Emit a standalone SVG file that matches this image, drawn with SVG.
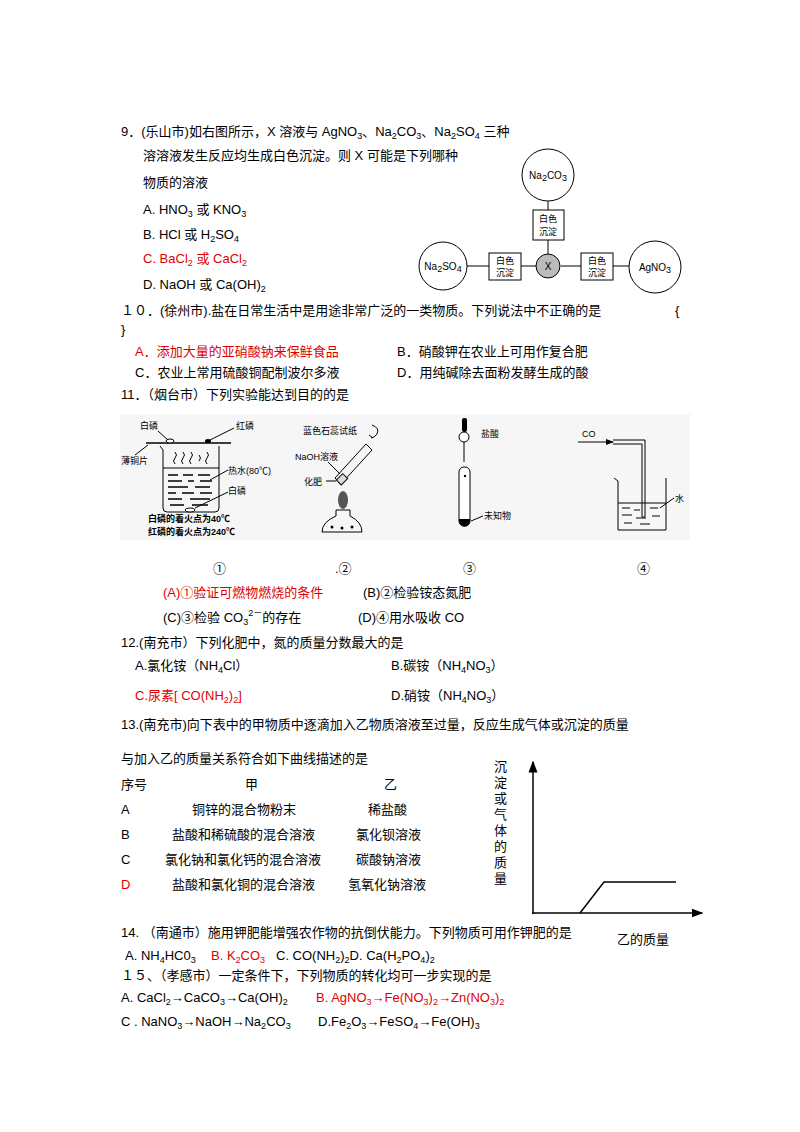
<svg xmlns="http://www.w3.org/2000/svg" width="800" height="1132" viewBox="0 0 800 1132">
<style>
text{font-family:"Liberation Sans","Noto Sans CJK SC",sans-serif;font-size:13px;fill:#000}
.r{fill:#e00000}
.s{font-size:10px}
.sm{font-size:9px}
.ln{stroke:#000;stroke-width:1;fill:none}
.th{stroke:#000;stroke-width:1.5;fill:none}
</style>
<defs><marker id="ah" markerWidth="8" markerHeight="8" refX="7" refY="4" orient="auto"><path d="M0,1 L8,4 L0,7 z" fill="#000"/></marker></defs>
<rect width="800" height="1132" fill="#fff"/>

<text x="121" y="136">9．(乐山市)如右图所示，X 溶液与 AgNO<tspan class="sm" dy="3">3</tspan><tspan dy="-3">、Na</tspan><tspan class="sm" dy="3">2</tspan><tspan dy="-3">CO</tspan><tspan class="sm" dy="3">3</tspan><tspan dy="-3">、Na</tspan><tspan class="sm" dy="3">2</tspan><tspan dy="-3">SO</tspan><tspan class="sm" dy="3">4</tspan><tspan dy="-3"> 三种</tspan></text>
<text x="143" y="160">溶溶液发生反应均生成白色沉淀。则 X 可能是下列哪种</text>
<text x="143" y="187">物质的溶液</text>
<text x="143" y="214">A.   HNO<tspan class="sm" dy="3">3</tspan><tspan dy="-3"> 或 KNO</tspan><tspan class="sm" dy="3">3</tspan></text>
<text x="143" y="239">B.   HCl 或 H<tspan class="sm" dy="3">2</tspan><tspan dy="-3">SO</tspan><tspan class="sm" dy="3">4</tspan></text>
<text x="143" y="263" class="r">C.   BaCl<tspan class="sm r" dy="3">2</tspan><tspan dy="-3"> 或 CaCl</tspan><tspan class="sm r" dy="3">2</tspan></text>
<text x="143" y="289">D.   NaOH  或 Ca(OH)<tspan class="sm" dy="3">2</tspan></text>

<g id="conn">
<line class="ln" x1="548" y1="201" x2="548" y2="210"/>
<line class="ln" x1="548" y1="240" x2="548" y2="255"/>
<line class="ln" x1="467" y1="266" x2="489" y2="266"/>
<line class="ln" x1="521" y1="266" x2="537" y2="266"/>
<line class="ln" x1="561" y1="266" x2="581" y2="266"/>
<line class="ln" x1="613" y1="266" x2="629" y2="266"/>
</g>
<g id="n-na2co3"><circle cx="548" cy="175" r="26" class="ln"/><text x="548" y="179" text-anchor="middle" class="s">Na<tspan class="sm" dy="2">2</tspan><tspan dy="-2">CO</tspan><tspan class="sm" dy="2">3</tspan></text></g>
<g id="n-x"><circle cx="548" cy="266" r="12" fill="#bbb" stroke="#000"/><text x="548" y="270" text-anchor="middle" class="s">X</text></g>
<g id="n-na2so4"><circle cx="443" cy="266" r="24" class="ln"/><text x="443" y="270" text-anchor="middle" class="s">Na<tspan class="sm" dy="2">2</tspan><tspan dy="-2">SO</tspan><tspan class="sm" dy="2">4</tspan></text></g>
<g id="n-agno3"><circle cx="655" cy="267" r="26" class="ln"/><text x="655" y="271" text-anchor="middle" class="s">AgNO<tspan class="sm" dy="2">3</tspan></text></g>
<g id="b-top"><rect x="533" y="210" width="31" height="30" class="ln"/><text x="548" y="222" text-anchor="middle" class="sm">白色</text><text x="548" y="235" text-anchor="middle" class="sm">沉淀</text></g>
<g id="b-left"><rect x="489" y="253" width="32" height="27" class="ln"/><text x="505" y="264" text-anchor="middle" class="sm">白色</text><text x="505" y="276" text-anchor="middle" class="sm">沉淀</text></g>
<g id="b-right"><rect x="581" y="253" width="32" height="27" class="ln"/><text x="597" y="264" text-anchor="middle" class="sm">白色</text><text x="597" y="276" text-anchor="middle" class="sm">沉淀</text></g>

<text x="121" y="315">１０．(徐州市).盐在日常生活中是用途非常广泛的一类物质。下列说法中不正确的是</text>
<text x="675" y="315">{</text>
<text x="121" y="334">}</text>
<text x="135" y="356" class="r">A．添加大量的亚硝酸钠来保鲜食品</text>
<text x="397" y="356">B．硝酸钾在农业上可用作复合肥</text>
<text x="135" y="377">C．农业上常用硫酸铜配制波尔多液</text>
<text x="397" y="377">D．用纯碱除去面粉发酵生成的酸</text>
<text x="121" y="399">11．（烟台市）下列实验能达到目的的是</text>

<g id="experiments">
<rect x="120" y="414" width="570" height="126" fill="#f6f6f6"/>
<line class="th" x1="146" y1="443" x2="231" y2="443"/>
<ellipse cx="170" cy="441" rx="4" ry="2" fill="#fff" stroke="#000"/>
<ellipse cx="208" cy="441" rx="3" ry="2" fill="#000"/>
<path class="ln" d="M160,446 L163,450 L163,508 Q163,512 167,512 L215,512 Q219,512 219,508 L219,446"/>
<path class="ln" d="M175,452 q3,3 0,6 q-3,3 0,6 M183,452 q3,3 0,6 q-3,3 0,6 M191,452 q3,3 0,6 q-3,3 0,6 M199,455 q3,3 0,6 M207,452 q3,3 0,6 q-3,3 0,6"/>
<line class="ln" x1="163" y1="468" x2="219" y2="468"/>
<path stroke="#000" stroke-width="1.5" d="M168,475h10M183,475h10M198,475h12M168,481h14M188,481h6M200,481h12M168,487h20M195,487h15M168,493h8M182,493h12M200,493h12M168,499h14M190,499h20M170,505h14M192,505h16"/>
<ellipse cx="190" cy="510" rx="5" ry="2" fill="#fff" stroke="#000"/>
<text x="140" y="429" class="sm">白磷</text>
<line class="ln" x1="158" y1="431" x2="168" y2="440"/>
<text x="236" y="429" class="sm">红磷</text>
<line class="ln" x1="234" y1="428" x2="210" y2="440"/>
<text x="121" y="464" class="sm">薄铜片</text>
<line class="ln" x1="135" y1="455" x2="148" y2="445"/>
<text x="228" y="474" class="sm">热水(80℃)</text>
<line class="ln" x1="228" y1="470" x2="210" y2="480"/>
<text x="228" y="494" class="sm">白磷</text>
<line class="ln" x1="228" y1="492" x2="195" y2="508"/>
<text x="148" y="522" class="sm" font-weight="bold">白磷的着火点为40℃</text>
<text x="148" y="535" class="sm" font-weight="bold">红磷的着火点为240℃</text>
<text x="303" y="434" class="sm">蓝色石蕊试纸</text>
<path class="ln" d="M372,425 q8,3 5,9 q-3,4 -6,4 M373,438 l-4,-3"/>
<path class="ln" d="M335,478 L366,444 L372,450 L341,484 z"/>
<rect x="338" y="476" width="9" height="7" fill="#ddd" stroke="#000" transform="rotate(-45 342 480)"/>
<text x="295" y="460" class="sm">NaOH溶液</text>
<line class="ln" x1="328" y1="462" x2="340" y2="474"/>
<text x="304" y="485" class="sm">化肥</text>
<line class="ln" x1="326" y1="481" x2="336" y2="481"/>
<ellipse cx="343" cy="500" rx="5" ry="9" fill="#555"/>
<path class="ln" d="M336,510 L350,510 L350,516 Q362,522 362,532 L322,532 Q322,522 336,516 z"/>
<circle cx="332" cy="527" r="1.5"/><circle cx="352" cy="527" r="1.5"/><circle cx="342" cy="528" r="1.5"/>
<rect x="462" y="418" width="5" height="14" rx="2" fill="#000"/>
<ellipse cx="464" cy="437" rx="5" ry="5" fill="#fff" stroke="#000"/>
<line class="ln" x1="464" y1="442" x2="464" y2="462"/>
<rect x="459" y="467" width="11" height="59" rx="5" fill="#fff" stroke="#000"/>
<path d="M459,519 h11 v2 a5,5 0 0 1 -11,0 z" fill="#000"/>
<circle cx="465" cy="476" r="1.2"/>
<text x="481" y="437" class="sm">盐酸</text>
<text x="484" y="519" class="sm">未知物</text>
<line class="ln" x1="483" y1="516" x2="471" y2="521"/>
<text x="582" y="437" class="sm">CO</text>
<line class="ln" x1="578" y1="442" x2="613" y2="442" marker-end="url(#ah)"/>
<path class="ln" d="M613,440 L645,440 L645,517 M613,444 L642,444 L642,517 L645,517"/>
<path class="ln" d="M614,478 L618,481 L618,530 L666,530 L666,478"/>
<line class="ln" x1="618" y1="503" x2="666" y2="503"/>
<path class="ln" d="M622,508h8M634,510h6M650,508h8M622,515h10M636,518h10M652,516h8M624,523h8M640,524h10"/>
<text x="675" y="502" class="sm">水</text>
<line class="ln" x1="674" y1="498" x2="660" y2="508"/>
</g>

<text x="213" y="573">①</text>
<text x="335" y="573">.②</text>
<text x="463" y="573">③</text>
<text x="637" y="573">④</text>
<text x="163" y="597" class="r">(A)①验证可燃物燃烧的条件</text>
<text x="363" y="597">(B)②检验铵态氮肥</text>
<text x="163" y="622">(C)③检验 CO<tspan class="sm" dy="3">3</tspan><tspan class="sm" dy="-9">2－</tspan><tspan dy="6">的存在</tspan></text>
<text x="358" y="622">(D)④用水吸收 CO</text>

<text x="121" y="647">12.(南充市）下列化肥中，氮的质量分数最大的是</text>
<text x="135" y="670">A.氯化铵（NH<tspan class="sm" dy="3">4</tspan><tspan dy="-3">Cl）</tspan></text>
<text x="391" y="670">B.碳铵（NH<tspan class="sm" dy="3">4</tspan><tspan dy="-3">NO</tspan><tspan class="sm" dy="3">3</tspan><tspan dy="-3">）</tspan></text>
<text x="135" y="700" class="r">C.尿素[ CO(NH<tspan class="sm r" dy="3">2</tspan><tspan dy="-3">)</tspan><tspan class="sm r" dy="3">2</tspan><tspan dy="-3">]</tspan></text>
<text x="391" y="700">D.硝铵（NH<tspan class="sm" dy="3">4</tspan><tspan dy="-3">NO</tspan><tspan class="sm" dy="3">3</tspan><tspan dy="-3">）</tspan></text>

<text x="121" y="729">13.(南充市)向下表中的甲物质中逐滴加入乙物质溶液至过量，反应生成气体或沉淀的质量</text>
<text x="121" y="763">与加入乙的质量关系符合如下曲线描述的是</text>
<text x="121" y="789">序号</text><text x="245" y="789">甲</text><text x="384" y="789">乙</text>
<text x="121" y="814">A</text><text x="192" y="814">铜锌的混合物粉末</text><text x="368" y="814">稀盐酸</text>
<text x="121" y="839">B</text><text x="172" y="839">盐酸和稀硫酸的混合溶液</text><text x="356" y="839">氯化钡溶液</text>
<text x="121" y="864">C</text><text x="165" y="864">氯化钠和氯化钙的混合溶液</text><text x="356" y="864">碳酸钠溶液</text>
<text x="121" y="889" class="r">D</text><text x="172" y="889">盐酸和氯化铜的混合溶液</text><text x="348" y="889">氢氧化钠溶液</text>

<g id="graph">
<line class="th" x1="533" y1="914" x2="533" y2="762" marker-end="url(#ah)"/>
<line class="th" x1="532" y1="913" x2="702" y2="913" marker-end="url(#ah)"/>
<polyline class="th" points="580,913 604,882 676,882"/>
<text x="494" y="771">沉</text><text x="494" y="787">淀</text><text x="494" y="803">或</text><text x="494" y="819">气</text><text x="494" y="835">体</text><text x="494" y="851">的</text><text x="494" y="867">质</text><text x="494" y="883">量</text>
</g>

<text x="121" y="937">14. （南通市）施用钾肥能增强农作物的抗倒伏能力。下列物质可用作钾肥的是</text>
<rect x="605" y="920" width="12" height="22" fill="#fff"/>
<text x="617" y="944">乙的质量</text>
<text x="125" y="960" font-size="12">A.  NH<tspan class="sm" dy="3">4</tspan><tspan dy="-3">HC0</tspan><tspan class="sm" dy="3">3</tspan></text>
<text x="211" y="960" font-size="12" class="r">B.  K<tspan class="sm r" dy="3">2</tspan><tspan dy="-3">CO</tspan><tspan class="sm r" dy="3">3</tspan></text>
<text x="276" y="960" font-size="12">C.  CO(NH<tspan class="sm" dy="3">2</tspan><tspan dy="-3">)</tspan><tspan class="sm" dy="3">2</tspan><tspan dy="-3">D.  Ca(H</tspan><tspan class="sm" dy="3">2</tspan><tspan dy="-3">PO</tspan><tspan class="sm" dy="3">4</tspan><tspan dy="-3">)</tspan><tspan class="sm" dy="3">2</tspan></text>
<text x="121" y="980">１５、（孝感市）一定条件下，下列物质的转化均可一步实现的是</text>
<text x="121" y="1002" font-size="12">A.  CaCl<tspan class="sm" dy="3">2</tspan><tspan dy="-3">→CaCO</tspan><tspan class="sm" dy="3">3</tspan><tspan dy="-3">→Ca(OH)</tspan><tspan class="sm" dy="3">2</tspan></text>
<text x="316" y="1002" font-size="12" class="r">B.  AgNO<tspan class="sm r" dy="3">3</tspan><tspan dy="-3">→Fe(NO</tspan><tspan class="sm r" dy="3">3</tspan><tspan dy="-3">)</tspan><tspan class="sm r" dy="3">2</tspan><tspan dy="-3">→Zn(NO</tspan><tspan class="sm r" dy="3">3</tspan><tspan dy="-3">)</tspan><tspan class="sm r" dy="3">2</tspan></text>
<text x="121" y="1026" font-size="12">C .  NaNO<tspan class="sm" dy="3">3</tspan><tspan dy="-3">→NaOH→Na</tspan><tspan class="sm" dy="3">2</tspan><tspan dy="-3">CO</tspan><tspan class="sm" dy="3">3</tspan></text>
<text x="318" y="1026" font-size="12">D.Fe<tspan class="sm" dy="3">2</tspan><tspan dy="-3">O</tspan><tspan class="sm" dy="3">3</tspan><tspan dy="-3">→FeSO</tspan><tspan class="sm" dy="3">4</tspan><tspan dy="-3">→Fe(OH)</tspan><tspan class="sm" dy="3">3</tspan></text>
</svg>
